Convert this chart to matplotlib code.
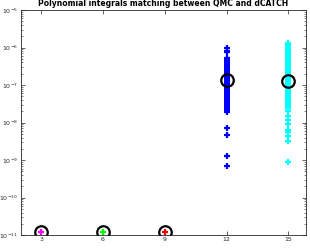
import matplotlib
matplotlib.use("Agg")
import matplotlib.pyplot as plt
from matplotlib.ticker import LogLocator, NullFormatter

# degrees and marker colours
degrees = [3, 6, 9, 12, 15]
colors = ["magenta", "lime", "red", "blue", "cyan"]
y_ticks = [1e-11, 1e-10, 1e-9, 1e-8, 1e-7, 1e-6, 1e-5]

# matching errors
err_3 = [1.2e-11]
err_6 = [1.2e-11]
err_9 = [1.2e-11]
err_12 = [9.5e-7, 8.3e-7, 7.4e-7, 5.4e-7, 5.0e-7, 4.6e-7, 4.2e-7, 3.9e-7,
          3.6e-7, 3.3e-7, 3.0e-7, 2.8e-7, 2.6e-7, 2.4e-7, 2.2e-7, 2.0e-7,
          1.85e-7, 1.7e-7, 1.55e-7, 1.4e-7, 1.3e-7, 1.2e-7, 1.1e-7, 1.0e-7,
          9.2e-8, 8.5e-8, 7.8e-8, 7.2e-8, 6.6e-8, 6.0e-8, 5.5e-8, 5.0e-8,
          4.6e-8, 4.2e-8, 3.8e-8, 3.5e-8, 3.2e-8, 2.9e-8, 2.6e-8, 2.4e-8,
          2.2e-8, 1.9e-8, 7.1e-9, 4.8e-9, 1.3e-9, 6.8e-10]
err_15 = [1.3e-6, 1.2e-6, 1.1e-6, 1.0e-6, 9.3e-7, 8.6e-7, 8.0e-7, 7.4e-7,
          6.8e-7, 6.2e-7, 5.7e-7, 5.2e-7, 4.8e-7, 4.4e-7, 4.0e-7, 3.7e-7,
          3.4e-7, 3.1e-7, 2.8e-7, 2.6e-7, 2.4e-7, 2.2e-7, 2.0e-7, 1.8e-7,
          1.65e-7, 1.5e-7, 1.4e-7, 1.3e-7, 1.2e-7, 1.1e-7, 1.0e-7, 9.2e-8,
          8.5e-8, 7.8e-8, 7.2e-8, 6.6e-8, 6.0e-8, 5.5e-8, 5.0e-8, 4.6e-8,
          4.2e-8, 3.8e-8, 3.5e-8, 3.2e-8, 2.9e-8, 2.6e-8, 2.4e-8, 2.0e-8,
          1.5e-8, 1.2e-8, 9.0e-9, 6.5e-9, 5.5e-9, 4.3e-9, 3.3e-9, 9.0e-10]
all_errs = [err_3, err_6, err_9, err_12, err_15]

# summary value per degree (black circles)
mean_err = [1.2e-11, 1.2e-11, 1.2e-11, 1.33e-7, 1.26e-7]

fig = plt.figure(figsize=(3.10, 2.49), dpi=100)
ax = fig.add_axes([0.068, 0.055, 0.919, 0.905])

for d, c, e in zip(degrees, colors, all_errs):
    ax.plot([d] * len(e), e, linestyle="none", marker="+", color=c,
            markersize=4.5, markeredgewidth=1.6)
ax.plot(degrees, mean_err, linestyle="none", marker="o", markersize=9,
        markerfacecolor="none", markeredgecolor="black", markeredgewidth=1.6)

ax.set_yscale("log")
ax.set_ylim(1e-11, 1e-5)
ax.set_xlim(2.03, 15.85)
ax.set_xticks(degrees)
ax.set_yticks(y_ticks)
ax.yaxis.set_minor_locator(LogLocator(base=10, subs=range(2, 10), numticks=10))
ax.yaxis.set_minor_formatter(NullFormatter())
ax.tick_params(which="both", direction="in", top=True, right=True,
               labelsize=4.5, colors="#262626", pad=2)
ax.tick_params(axis="x", pad=1.5)
ax.tick_params(which="major", length=3, width=0.5)
ax.tick_params(which="minor", length=1.5, width=0.4)
for s in ax.spines.values():
    s.set_linewidth(0.6)
    s.set_color("#262626")

ax.set_title("Polynomial integrals matching between QMC and dCATCH",
             fontsize=5.5, fontweight="bold", pad=3)

fig.savefig("out.png", dpi=100)
